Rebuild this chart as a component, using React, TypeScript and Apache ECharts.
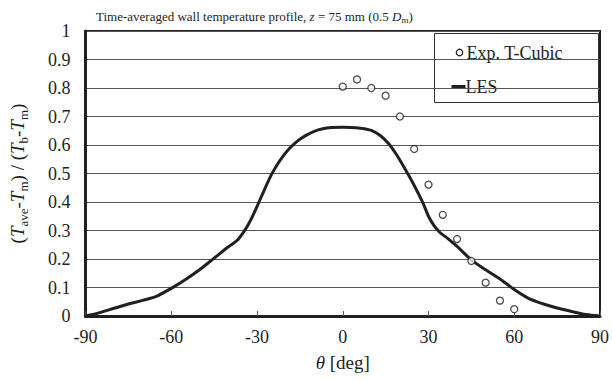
import React, { useEffect, useRef } from "react";
import * as echarts from "echarts";

// Experimental wall temperature (T-Cubic), angle in degrees
const expTheta = [0, 5, 10, 15, 20, 25, 30, 35, 40, 45, 50, 55, 60];
const expValue = [0.805, 0.83, 0.8, 0.773, 0.7, 0.586, 0.461, 0.355, 0.27, 0.193, 0.117, 0.054, 0.024];

// LES time-averaged profile
const lesTheta = [
  -90, -85, -80, -75, -70, -65, -60, -55, -50, -45, -40, -37, -35, -33, -31, -29, -27, -25, -23, -21, -19,
  -16, -13, -10, -7, -4, 0, 3, 6, 8, 10, 13, 16, 19, 22, 25, 28, 30, 32, 34, 37, 40, 45, 50, 55, 60, 65,
  70, 75, 80, 85, 90,
];
const lesValue = [
  0, 0.012, 0.027, 0.042, 0.055, 0.07, 0.097, 0.128, 0.163, 0.203, 0.243, 0.265, 0.29, 0.322, 0.362,
  0.407, 0.452, 0.495, 0.53, 0.559, 0.584, 0.613, 0.633, 0.648, 0.657, 0.661, 0.662, 0.661, 0.659, 0.656,
  0.651, 0.634, 0.605, 0.563, 0.512, 0.458, 0.398, 0.35, 0.316, 0.293, 0.27, 0.244, 0.197, 0.162, 0.13,
  0.093, 0.062, 0.043, 0.028, 0.016, 0.005, 0,
];

const xTicks = [-90, -60, -30, 0, 30, 60, 90];
const yTicks = [0, 0.1, 0.2, 0.3, 0.4, 0.5, 0.6, 0.7, 0.8, 0.9, 1];

const FONT = "Liberation Serif";
const INK = "#231f20";

export default function App() {
  const ref = useRef<HTMLDivElement>(null);

  useEffect(() => {
    if (!ref.current) return;
    const chart = echarts.init(ref.current, null, { renderer: "svg" });

    const lesData = lesTheta.map((t, i) => [t, lesValue[i]]);
    const expData = expTheta.map((t, i) => [t, expValue[i]]);

    const sub = { fontFamily: FONT, fontSize: 13, lineHeight: 13, verticalAlign: "bottom", color: INK, fontWeight: "normal" };
    const it = { fontFamily: FONT, fontSize: 19, fontStyle: "italic", lineHeight: 24, color: INK, fontWeight: "normal" };
    const rm = { fontFamily: FONT, fontSize: 19, lineHeight: 24, color: INK, fontWeight: "normal" };

    chart.setOption({
      animation: false,
      backgroundColor: "#ffffff",
      textStyle: { fontFamily: FONT, color: INK },
      grid: {
        left: 84,
        right: 12,
        top: 31,
        bottom: 65,
        show: true,
        borderColor: INK,
        borderWidth: 2,
        backgroundColor: "transparent",
      },
      title: {
        left: 91,
        top: 3,
        text: "{r|Time-averaged wall temperature profile, }{i|z}{r| = 75 mm (0.5 }{i|D}{s|m}{r|)}",
        textStyle: {
          fontWeight: "normal",
          fontFamily: FONT,
          rich: {
            r: { fontFamily: FONT, fontSize: 13, lineHeight: 16, color: INK, fontWeight: "normal" },
            i: { fontFamily: FONT, fontSize: 13, lineHeight: 16, fontStyle: "italic", color: INK, fontWeight: "normal" },
            s: { fontFamily: FONT, fontSize: 9, lineHeight: 10, verticalAlign: "bottom", color: INK, fontWeight: "normal" },
          },
        },
      },
      xAxis: {
        type: "value",
        min: -90,
        max: 90,
        interval: 30,
        name: "{i|θ}{r| [deg]}",
        nameLocation: "middle",
        nameGap: 34,
        nameTextStyle: { fontFamily: FONT, rich: { i: it, r: rm } },
        axisLine: { show: true, onZero: false, lineStyle: { color: INK, width: 3 } },
        axisTick: { show: true, inside: true, length: 5, lineStyle: { color: "#555" } },
        axisLabel: {
          fontFamily: FONT,
          fontSize: 18,
          color: INK,
          margin: 12,
          showMaxLabel: true,
          formatter: (v: number) => (xTicks.includes(v) ? String(v) : ""),
        },
        splitLine: { show: false },
      },
      yAxis: {
        type: "value",
        min: 0,
        max: 1,
        interval: 0.1,
        name: "{r|(}{i|T}{s|ave}{r|-}{i|T}{s|m}{r|) / (}{i|T}{s|b}{r|-}{i|T}{s|m}{r|)}",
        nameLocation: "middle",
        nameRotate: 90,
        nameGap: 56,
        nameTextStyle: { fontFamily: FONT, rich: { r: rm, i: it, s: sub } },
        axisLine: { show: true, onZero: false, lineStyle: { color: INK, width: 3 } },
        axisTick: { show: false },
        axisLabel: {
          fontFamily: FONT,
          fontSize: 18,
          color: INK,
          margin: 15,
          formatter: (v: number) => {
            const r = Math.round(v * 10) / 10;
            return yTicks.includes(r) ? String(r) : "";
          },
        },
        splitLine: { show: true, lineStyle: { color: "#555", width: 1 } },
      },
      series: [
        {
          name: "LES",
          type: "line",
          data: lesData,
          smooth: 0.3,
          showSymbol: false,
          symbol: "none",
          lineStyle: { color: INK, width: 3 },
          z: 3,
        },
        {
          name: "Exp. T-Cubic",
          type: "scatter",
          data: expData,
          symbol: "circle",
          symbolSize: 7,
          itemStyle: { color: "#ffffff", borderColor: INK, borderWidth: 1.3 },
          z: 4,
        },
      ],
      graphic: [
        {
          type: "group",
          left: 434,
          top: 33,
          z: 10,
          children: [
            {
              type: "rect",
              shape: { x: 0, y: 0, width: 164, height: 69 },
              style: { fill: "#ffffff", stroke: "#333", lineWidth: 1 },
            },
            {
              type: "circle",
              shape: { cx: 25, cy: 19, r: 3.2 },
              style: { fill: "#ffffff", stroke: INK, lineWidth: 1.3 },
            },
            {
              type: "text",
              x: 32,
              y: 19,
              style: { text: "Exp. T-Cubic", fontFamily: FONT, fontSize: 18, fill: INK, verticalAlign: "middle" },
            },
            {
              type: "line",
              shape: { x1: 17, y1: 53, x2: 31, y2: 53 },
              style: { stroke: INK, lineWidth: 3 },
            },
            {
              type: "text",
              x: 31,
              y: 53,
              style: { text: "LES", fontFamily: FONT, fontSize: 18, fill: INK, verticalAlign: "middle" },
            },
          ],
        },
      ],
    });

    return () => chart.dispose();
  }, []);

  return (
    <div
      ref={ref}
      style={{ position: "fixed", left: 0, top: 0, width: 612, height: 381, background: "#fff" }}
    />
  );
}
